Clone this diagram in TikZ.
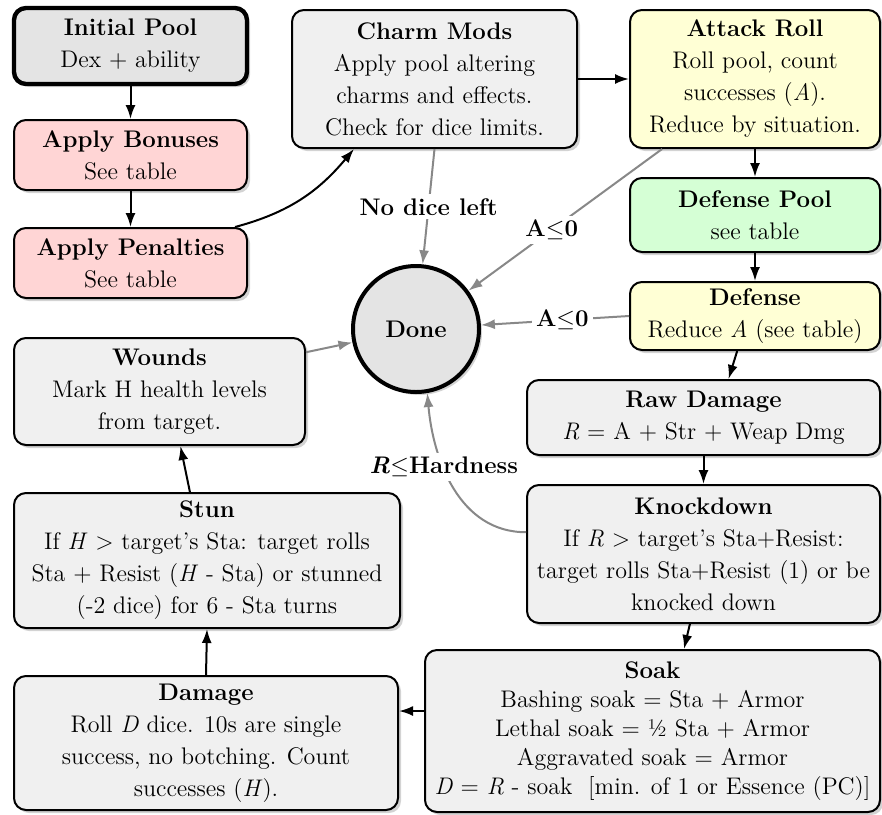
\documentclass[tikz,border=0pt]{standalone}
\usepackage{fontspec}
\usetikzlibrary{arrows.meta,positioning,shadows}

\definecolor{boxgray}{HTML}{F0F0F0}
\definecolor{startgray}{HTML}{E4E4E4}
\definecolor{modpink}{HTML}{FFD5D5}
\definecolor{rollyellow}{HTML}{FFFFD5}
\definecolor{defgreen}{HTML}{D5FFD5}
\definecolor{exitgray}{HTML}{888888}

\begin{document}
\begin{tikzpicture}[x=0.5pt,y=-0.5pt,font=\fontsize{12}{16}\selectfont]
  \tikzset{flow box/.style 2 args={draw,line width=1pt,rounded corners=6pt,align=center,
      inner sep=2pt,minimum width=#1,minimum height=#2,fill=boxgray,
      drop shadow={shadow xshift=1.5pt,shadow yshift=-1.5pt,opacity=0.35}},
    done circle/.style={draw,circle,line width=2pt,fill=startgray,minimum size=#1,
      font=\fontsize{12}{16}\selectfont\bfseries,
      drop shadow={shadow xshift=1.5pt,shadow yshift=-1.5pt,opacity=0.35}},
    flow/.style={-{Latex[length=7pt,width=5pt]},line width=1pt},
    exit line/.style={-{Latex[length=7pt,width=5pt]},line width=1pt,draw=exitgray},
    exit label/.style={fill=white,inner sep=2pt,font=\fontsize{12}{16}\selectfont\bfseries}}
  \useasboundingbox (0,0) rectangle (882,814);

  % left column
  \node (init) [flow box={116.5pt}{38pt},fill=startgray,line width=2.2pt] at (130.5,46)
    {\textbf{Initial Pool}\\Dex + ability};
  \node (bonus) [flow box={116.5pt}{35pt},fill=modpink] at (130.5,155)
    {\textbf{Apply Bonuses}\\See table};
  \node (penalty) [flow box={116.5pt}{35pt},fill=modpink] at (130.5,263)
    {\textbf{Apply Penalties}\\See table};

  % top row
  \node (charm) [flow box={142.5pt}{69pt}] at (434.5,79)
    {\textbf{Charm Mods}\\Apply pool altering\\charms and effects.\\Check for dice limits.};
  \node (attack) [flow box={125pt}{69pt},fill=rollyellow] at (755,79)
    {\textbf{Attack Roll}\\Roll pool, count\\successes (\textit{A}).\\Reduce by situation.};
  \node (defpool) [flow box={125pt}{37pt},fill=defgreen] at (755,215)
    {\textbf{Defense Pool}\\see table};
  \node (defense) [flow box={125pt}{34pt},fill=rollyellow] at (755,316)
    {\textbf{Defense}\\Reduce \textit{A} (see table)};

  % damage chain
  \node (raw) [flow box={176.5pt}{37.5pt}] at (703.5,417.5)
    {\textbf{Raw Damage}\\\textit{R} = A + Str + Weap Dmg};
  \node (knock) [flow box={176.5pt}{69pt}] at (703.5,554)
    {\textbf{Knockdown}\\If \textit{R} > target's Sta+Resist:\\target rolls Sta+Resist (1) or be\\knocked down};
  \node (soak) [flow box={227.5pt}{81pt},font=\fontsize{12}{14.5}\selectfont] at (652.5,731)
    {\textbf{Soak}\\Bashing soak = Sta + Armor\\Lethal soak = ½ Sta + Armor\\Aggravated soak = Armor\\\textit{D} = \textit{R} - soak\ \ [min. of 1 or Essence (PC)]};
  \node (damage) [flow box={192pt}{67pt}] at (206,743)
    {\textbf{Damage}\\Roll \textit{D} dice. 10s are single\\success, no botching. Count\\successes (\textit{H}).};
  \node (stun) [flow box={193pt}{67.5pt}] at (207,560.5)
    {\textbf{Stun}\\If \textit{H} > target's Sta: target rolls\\Sta + Resist (\textit{H} - Sta) or stunned\\(-2 dice) for 6 - Sta turns};
  \node (wounds) [flow box={145.5pt}{53.5pt}] at (159.5,391.5)
    {\textbf{Wounds}\\Mark H health levels\\from target.};

  \node (done) [done circle=63pt] at (416,329) {Done};

  % main flow
  \draw[flow] (init) -- (bonus);
  \draw[flow] (bonus) -- (penalty);
  \draw[flow] (penalty.19) to[out=15,in=230] (charm.221);
  \draw[flow] (charm.east) -- (attack.west);
  \draw[flow] (attack) -- (defpool);
  \draw[flow] (defpool) -- (defense);
  \draw[flow] (defense.243) -- (raw.57);
  \draw[flow] (raw) -- (knock);
  \draw[flow] (knock.259) -- (soak.69);
  \draw[flow] (soak.175) -- (soak.175 -| damage.east);
  \draw[flow] (damage.north) -- (stun.south);
  \draw[flow] (stun.104) -- (wounds.-69);

  % ways out
  \draw[exit line] (charm.south) -- node[exit label] {No dice left} (done);
  \draw[exit line] (attack.217) -- node[exit label,pos=0.57] {A$\leq$0} (done);
  \draw[exit line] (defense.west) -- node[exit label,pos=0.45] {A$\leq$0} (done);
  \draw[exit line] (knock.173) to[out=180,in=-85] node[exit label,pos=0.62] {\textit{R}$\leq$Hardness} (done.-80);
  \draw[exit line] (wounds.15) -- (done);
\end{tikzpicture}
\end{document}
